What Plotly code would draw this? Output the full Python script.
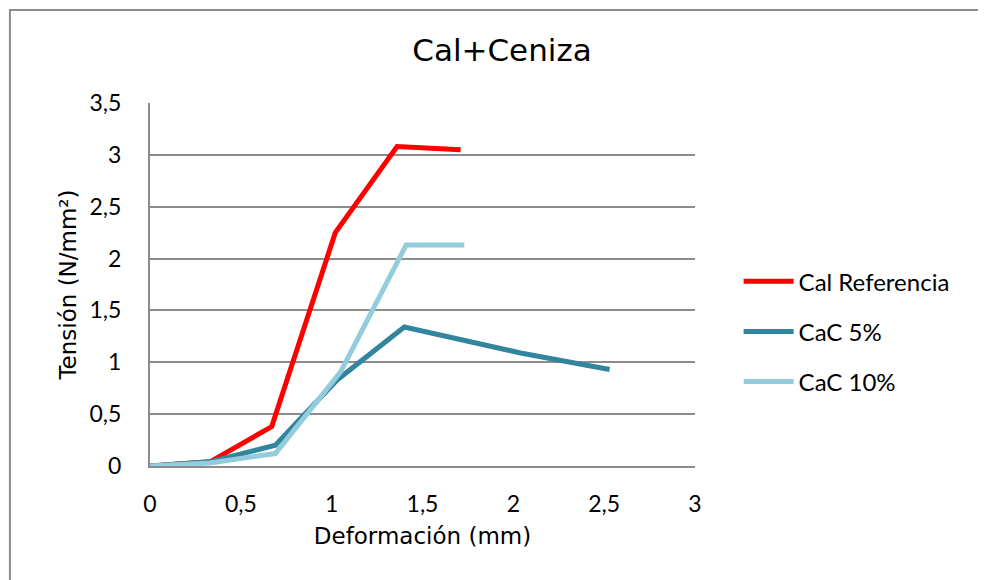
import plotly.graph_objects as go

# Deformación (mm) / Tensión (N/mm²)
cal_ref_x = [0, 0.33, 0.67, 1.02, 1.36, 1.71]
cal_ref_y = [0, 0.04, 0.38, 2.25, 3.08, 3.05]

cac5_x = [0, 0.33, 0.69, 1.03, 1.40, 2.04, 2.53]
cac5_y = [0, 0.04, 0.20, 0.83, 1.34, 1.09, 0.93]

cac10_x = [0, 0.33, 0.69, 1.05, 1.41, 1.73]
cac10_y = [0, 0.03, 0.12, 0.91, 2.13, 2.13]

x_ticks = [0, 0.5, 1, 1.5, 2, 2.5, 3]
x_labels = ["0", "0,5", "1", "1,5", "2", "2,5", "3"]
y_ticks = [0, 0.5, 1, 1.5, 2, 2.5, 3, 3.5]
y_labels = ["0", "0,5", "1", "1,5", "2", "2,5", "3", "3,5"]

series = [
    ("Cal Referencia", cal_ref_x, cal_ref_y, "#ff0000"),
    ("CaC 5%", cac5_x, cac5_y, "#31859c"),
    ("CaC 10%", cac10_x, cac10_y, "#93cddd"),
]

TICK_FONT = dict(family="Lato, Open Sans, sans-serif", size=23, color="#000000")
TITLE_FONT = dict(family="DejaVu Sans, sans-serif", size=23, color="#000000")

fig = go.Figure()
for i, (name, xs, ys, col) in enumerate(series):
    fig.add_trace(go.Scatter(
        x=xs, y=ys, mode="lines", name=name,
        line=dict(color=col, width=5),
        legendgroup=f"g{i}",
    ))

# page body has an 8px margin, so the margins are shifted by 8px
fig.update_layout(
    width=986, height=580,
    paper_bgcolor="white", plot_bgcolor="white",
    margin=dict(l=142, r=299, t=95, b=122),
    title=dict(text="Cal+Ceniza", x=0.501, xanchor="center", y=0.928, yanchor="middle",
               font=dict(family="DejaVu Sans, sans-serif", size=31, color="#000000")),
    legend=dict(
        x=1.08, y=0.57, xanchor="left", yanchor="top",
        font=dict(family="Lato, Open Sans, sans-serif", size=24, color="#000000"),
        traceorder="grouped", tracegroupgap=16,
        itemwidth=50,
        bgcolor="rgba(0,0,0,0)",
    ),
    showlegend=True,
)

fig.update_xaxes(
    range=[0, 3], tickvals=x_ticks, ticktext=x_labels,
    showgrid=False, zeroline=False,
    showline=True, linecolor="#8c8c8c", linewidth=2,
    ticks="outside", ticklen=16, tickcolor="rgba(0,0,0,0)",
    tickfont=TICK_FONT,
    title=dict(text="Deformación (mm)", font=TITLE_FONT, standoff=12),
)
fig.update_yaxes(
    range=[0, 3.5], tickvals=y_ticks, ticktext=y_labels,
    showgrid=True, gridcolor="#8c8c8c", gridwidth=2,
    zeroline=False,
    showline=True, linecolor="#8c8c8c", linewidth=2,
    ticks="outside", ticklen=22, tickcolor="rgba(0,0,0,0)",
    tickfont=TICK_FONT,
    title=dict(text="Tensión (N/mm²)", font=TITLE_FONT, standoff=6),
)

# chart frame
fig.add_shape(type="rect", xref="paper", yref="paper",
              x0=-0.257, x1=1.528, y0=-0.4, y1=1.256,
              line=dict(color="#8c8c8c", width=2), layer="below")

fig.write_html("out.html")
